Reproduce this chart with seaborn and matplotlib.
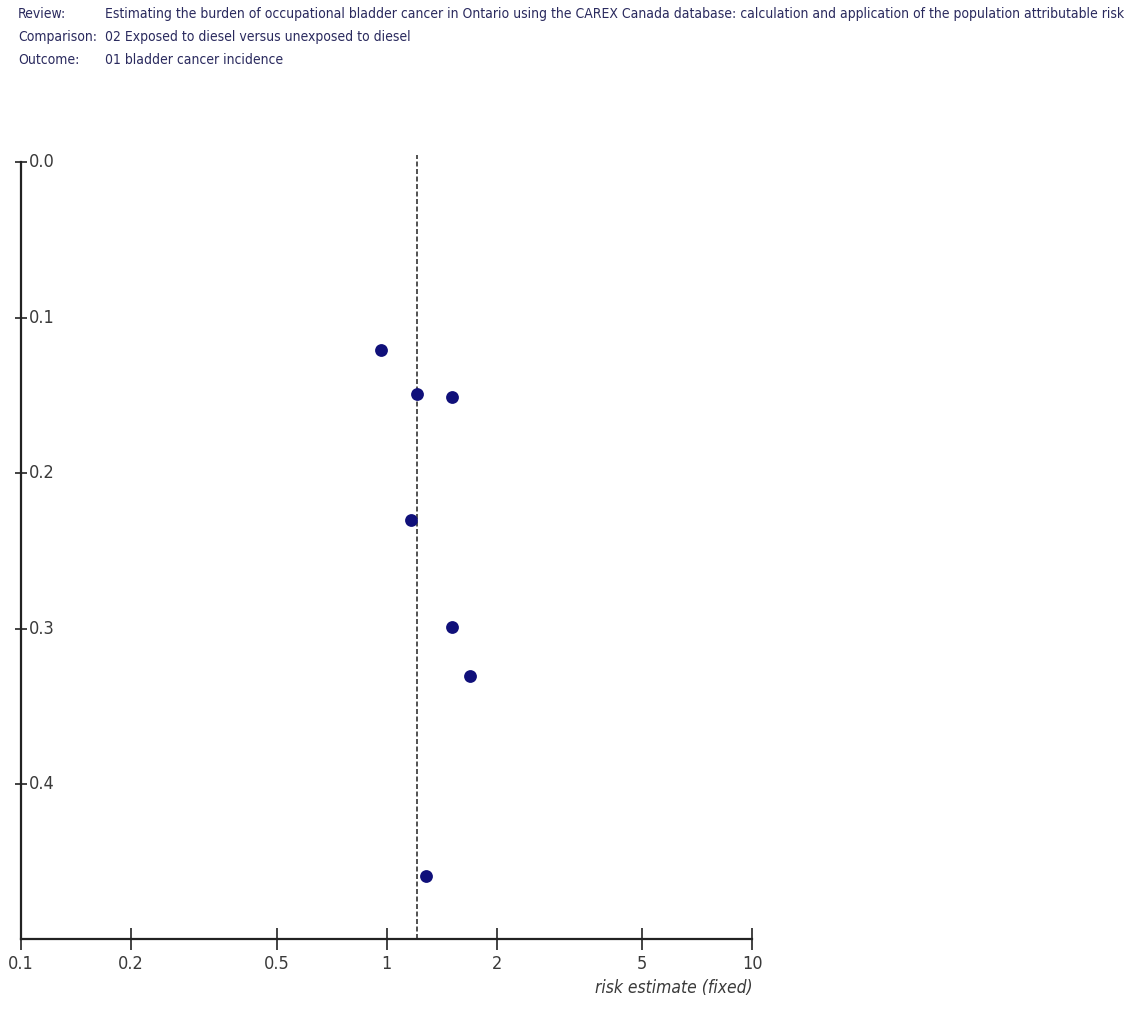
import matplotlib
matplotlib.use("Agg")
import matplotlib.pyplot as plt
from matplotlib import font_manager
from matplotlib.font_manager import FontProperties
from matplotlib.ticker import FixedLocator, FixedFormatter, NullLocator
import seaborn as sns
import pandas as pd

# funnel plot data: risk estimate vs standard error of log(RR)
risk_estimate = [0.966, 1.208, 1.509, 1.165, 1.505, 1.690, 1.281]
std_error = [0.1206, 0.1493, 0.1506, 0.2298, 0.2992, 0.3304, 0.4589]
pooled_estimate = 1.212

x_ticks = [0.1, 0.2, 0.5, 1, 2, 5, 10]
x_tick_labels = ["0.1", "0.2", "0.5", "1", "2", "5", "10"]
y_ticks = [0.0, 0.1, 0.2, 0.3, 0.4]
y_tick_labels = ["0.0", "0.1", "0.2", "0.3", "0.4"]

header_keys = ["Review:", "Comparison:", "Outcome:"]
header_values = [
    "Estimating the burden of occupational bladder cancer in Ontario using the CAREX Canada database: "
    "calculation and application of the population attributable risk",
    "02 Exposed to diesel versus unexposed to diesel",
    "01 bladder cancer incidence",
]

df = pd.DataFrame({"rr": risk_estimate, "se": std_error})

sns.set_style("ticks")
plt.rcParams["font.family"] = ["Liberation Sans", "DejaVu Sans"]


def find_narrow(italic=False):
    # look for a condensed / narrow sans face among the installed fonts
    want = ("italic", "oblique") if italic else ("normal",)
    best = None
    for f in font_manager.fontManager.ttflist:
        narrow = "Narrow" in f.name or "Condensed" in f.name or str(f.stretch) in (
            "condensed", "semi-condensed", "extra-condensed", "ultra-condensed")
        if not narrow or f.style not in want:
            continue
        if "Serif" in f.name or "Mono" in f.name:
            continue
        if f.weight not in (400, "normal", "regular", "book"):
            continue
        rank = 0 if "Liberation" in f.name or "Arial" in f.name else 1
        if best is None or rank < best[0]:
            best = (rank, f.fname)
    return best[1] if best else None


narrow_path = find_narrow()
narrow_italic_path = find_narrow(italic=True)


def fprops(size, italic=False):
    if italic:
        if narrow_italic_path:
            return FontProperties(fname=narrow_italic_path, size=size)
        return FontProperties(family=["Liberation Sans", "DejaVu Sans"], size=size * 0.85,
                              style="italic")
    if narrow_path:
        return FontProperties(fname=narrow_path, size=size)
    return FontProperties(family=["Liberation Sans", "DejaVu Sans"], size=size * 0.85)


fig = plt.figure(figsize=(11.28, 10.16), dpi=100)
ax = fig.add_axes([0.0186, 0.0753, 0.6484, 0.7648])

sns.scatterplot(data=df, x="rr", y="se", ax=ax, color="#10107a", s=85,
                edgecolor="#10107a", linewidth=0, zorder=3)

ax.set_xscale("log")
ax.set_xlim(0.1, 10)
ax.set_ylim(0.5, 0.0)

ax.axvline(pooled_estimate, ymin=0, ymax=1.01, color="#333333", lw=1.2,
           ls=(0, (3, 1.5)), clip_on=False, zorder=2)

ax.xaxis.set_major_locator(FixedLocator(x_ticks))
ax.xaxis.set_major_formatter(FixedFormatter(x_tick_labels))
ax.xaxis.set_minor_locator(NullLocator())
ax.yaxis.set_major_locator(FixedLocator(y_ticks))
ax.yaxis.set_major_formatter(FixedFormatter(y_tick_labels))

for side in ["top", "right"]:
    ax.spines[side].set_visible(False)
for side in ["left", "bottom"]:
    ax.spines[side].set_linewidth(1.6)
    ax.spines[side].set_color("#222222")

tick_size = 13
ax.tick_params(axis="x", direction="inout", length=16, width=1.2, color="#222222",
               labelcolor="#3a3a3a", pad=3)
ax.tick_params(axis="y", direction="inout", length=9, width=1.2, color="#222222",
               labelcolor="#3a3a3a", pad=-10)
for lbl in ax.get_xticklabels():
    lbl.set_fontproperties(fprops(tick_size))
for lbl in ax.get_yticklabels():
    lbl.set_fontproperties(fprops(tick_size))
    lbl.set_horizontalalignment("left")
    lbl.set_verticalalignment("center")

ax.set_xlabel("")
ax.set_ylabel("")
ax.text(1.0, -0.062, "risk estimate (fixed)", transform=ax.transAxes, ha="right",
        va="center", color="#3a3a3a", fontproperties=fprops(12.5, italic=True))

# header block, sized so the long review line spans the same width as in the source
header_color = "#2a2a5e"
size = 13.5
renderer = fig.canvas.get_renderer()
probe = fig.text(105 / 1128, 0.5, header_values[0], fontproperties=fprops(size))
width = probe.get_window_extent(renderer).width
probe.remove()
size = size * 1013 / width
size = size / 0.85 if not narrow_path else size

for i, (k, v) in enumerate(zip(header_keys, header_values)):
    y = 1 - (14 + 23 * i) / 1016
    fig.text(18 / 1128, y, k, ha="left", va="center", color=header_color,
             fontproperties=fprops(size))
    fig.text(105 / 1128, y, v, ha="left", va="center", color=header_color,
             fontproperties=fprops(size))

fig.savefig("out.png", dpi=100)
